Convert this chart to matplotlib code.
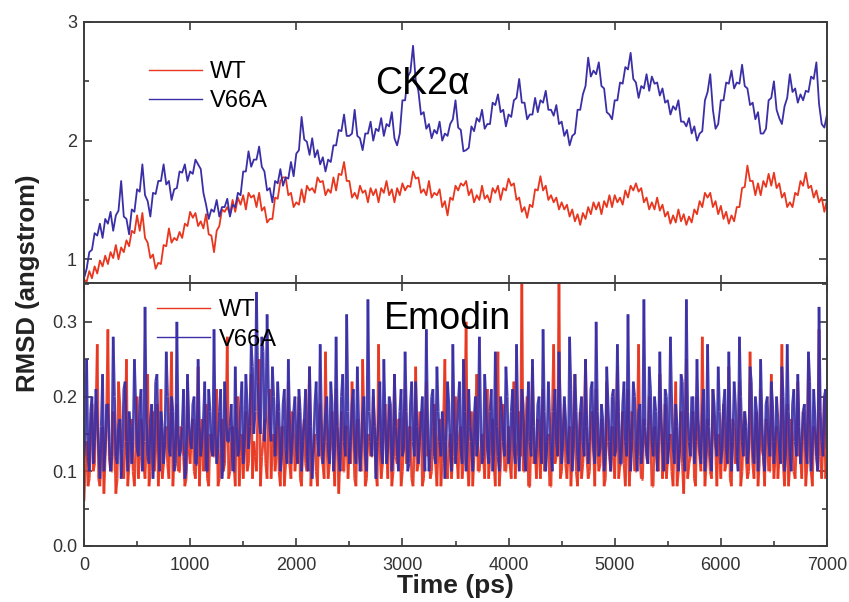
import numpy as np
import matplotlib
matplotlib.use("Agg")
import matplotlib.pyplot as plt
from matplotlib.ticker import MultipleLocator
from matplotlib.collections import LineCollection

plt.rcParams['font.family'] = ['Liberation Sans', 'DejaVu Sans']

# ---------------- data (RMSD, angstrom), sampled every 25 ps from 0 to 7000 ps ----------------
ck2_wt = [
    0.83, 0.81, 0.90, 0.84, 0.94, 0.88, 0.99, 0.94, 1.03, 0.96, 1.06, 1.01, 1.12, 1.00, 1.10, 1.06, 1.16, 1.11, 1.24, 1.22,
    1.37, 1.24, 1.39, 1.18, 1.14, 1.01, 1.04, 0.92, 0.97, 0.96, 1.12, 1.11, 1.26, 1.14, 1.18, 1.16, 1.23, 1.18, 1.30, 1.28,
    1.40, 1.35, 1.39, 1.28, 1.32, 1.26, 1.38, 1.21, 1.20, 1.06, 1.24, 1.28, 1.42, 1.40, 1.44, 1.38, 1.50, 1.40, 1.52, 1.46,
    1.54, 1.42, 1.56, 1.52, 1.54, 1.44, 1.56, 1.41, 1.44, 1.31, 1.34, 1.34, 1.52, 1.51, 1.66, 1.69, 1.69, 1.54, 1.56, 1.44,
    1.48, 1.46, 1.59, 1.48, 1.62, 1.58, 1.60, 1.56, 1.69, 1.65, 1.66, 1.54, 1.59, 1.56, 1.69, 1.58, 1.72, 1.71, 1.82, 1.66,
    1.66, 1.52, 1.56, 1.51, 1.62, 1.56, 1.58, 1.48, 1.60, 1.54, 1.59, 1.48, 1.60, 1.56, 1.66, 1.54, 1.59, 1.48, 1.60, 1.54,
    1.64, 1.58, 1.62, 1.61, 1.74, 1.68, 1.69, 1.56, 1.59, 1.54, 1.66, 1.52, 1.56, 1.54, 1.59, 1.44, 1.49, 1.37, 1.52, 1.50,
    1.62, 1.58, 1.64, 1.62, 1.66, 1.54, 1.59, 1.48, 1.54, 1.50, 1.62, 1.51, 1.54, 1.48, 1.60, 1.56, 1.62, 1.50, 1.60, 1.58,
    1.68, 1.62, 1.64, 1.50, 1.52, 1.40, 1.44, 1.35, 1.46, 1.44, 1.59, 1.58, 1.70, 1.58, 1.62, 1.50, 1.54, 1.48, 1.52, 1.42,
    1.48, 1.42, 1.46, 1.36, 1.42, 1.32, 1.38, 1.29, 1.39, 1.34, 1.44, 1.38, 1.48, 1.42, 1.48, 1.38, 1.49, 1.44, 1.54, 1.44,
    1.54, 1.48, 1.52, 1.46, 1.58, 1.52, 1.62, 1.58, 1.64, 1.57, 1.60, 1.48, 1.52, 1.42, 1.48, 1.42, 1.52, 1.41, 1.46, 1.36,
    1.40, 1.30, 1.37, 1.31, 1.42, 1.32, 1.38, 1.29, 1.36, 1.31, 1.42, 1.38, 1.49, 1.44, 1.56, 1.52, 1.56, 1.44, 1.49, 1.38,
    1.45, 1.34, 1.40, 1.30, 1.37, 1.32, 1.44, 1.44, 1.60, 1.61, 1.79, 1.66, 1.66, 1.54, 1.64, 1.54, 1.66, 1.61, 1.72, 1.62,
    1.73, 1.60, 1.64, 1.52, 1.56, 1.44, 1.48, 1.44, 1.56, 1.54, 1.66, 1.62, 1.73, 1.60, 1.62, 1.52, 1.58, 1.48, 1.52, 1.40,
    1.50,
]

ck2_v66a = [
    0.84, 0.92, 1.06, 1.08, 1.22, 1.20, 1.30, 1.18, 1.34, 1.30, 1.40, 1.24, 1.37, 1.41, 1.66, 1.36, 1.34, 1.21, 1.42, 1.40,
    1.59, 1.57, 1.80, 1.54, 1.49, 1.36, 1.56, 1.55, 1.66, 1.66, 1.80, 1.63, 1.66, 1.50, 1.59, 1.60, 1.74, 1.73, 1.80, 1.66,
    1.74, 1.72, 1.84, 1.80, 1.76, 1.56, 1.46, 1.34, 1.42, 1.40, 1.50, 1.36, 1.44, 1.44, 1.51, 1.36, 1.46, 1.44, 1.56, 1.54,
    1.74, 1.74, 1.91, 1.78, 1.84, 1.84, 1.95, 1.78, 1.74, 1.58, 1.60, 1.48, 1.66, 1.64, 1.76, 1.62, 1.69, 1.68, 1.82, 1.70,
    1.89, 1.92, 2.20, 2.01, 1.99, 1.88, 2.02, 1.86, 1.92, 1.80, 1.86, 1.74, 1.84, 1.82, 1.96, 1.96, 2.09, 2.08, 2.22, 2.04,
    2.04, 2.06, 2.26, 2.04, 2.02, 1.92, 2.06, 2.06, 2.16, 2.00, 2.10, 2.08, 2.19, 2.04, 2.14, 2.12, 2.24, 2.02, 1.96, 2.06,
    2.34, 2.34, 2.54, 2.58, 2.80, 2.51, 2.42, 2.22, 2.24, 2.10, 2.14, 2.02, 2.09, 2.06, 2.16, 2.00, 2.06, 2.04, 2.14, 2.18,
    2.34, 2.11, 2.09, 1.91, 1.92, 1.94, 2.12, 2.08, 2.19, 2.16, 2.26, 2.10, 2.14, 2.14, 2.32, 2.30, 2.39, 2.24, 2.26, 2.12,
    2.22, 2.20, 2.34, 2.36, 2.52, 2.32, 2.32, 2.18, 2.22, 2.22, 2.36, 2.24, 2.34, 2.32, 2.42, 2.26, 2.26, 2.21, 2.30, 2.14,
    2.16, 2.04, 2.09, 1.96, 2.04, 2.06, 2.26, 2.26, 2.39, 2.46, 2.70, 2.54, 2.59, 2.56, 2.66, 2.46, 2.44, 2.24, 2.22, 2.18,
    2.34, 2.34, 2.49, 2.48, 2.62, 2.60, 2.74, 2.52, 2.49, 2.36, 2.46, 2.44, 2.56, 2.42, 2.54, 2.48, 2.49, 2.38, 2.44, 2.32,
    2.34, 2.22, 2.29, 2.26, 2.34, 2.16, 2.16, 2.12, 2.19, 2.06, 2.12, 2.00, 2.06, 2.08, 2.34, 2.41, 2.56, 2.26, 2.10, 2.14,
    2.34, 2.34, 2.49, 2.48, 2.59, 2.44, 2.49, 2.48, 2.64, 2.46, 2.44, 2.30, 2.32, 2.18, 2.24, 2.06, 2.06, 2.10, 2.34, 2.36,
    2.50, 2.26, 2.19, 2.14, 2.29, 2.36, 2.56, 2.41, 2.44, 2.32, 2.39, 2.34, 2.42, 2.41, 2.54, 2.52, 2.66, 2.31, 2.14, 2.11,
    2.22,
]

# Emodin: samples at 0, 25, ..., 7000 ps
emodin_wt = [
    0.06, 0.14, 0.09, 0.19, 0.11, 0.27, 0.08, 0.16, 0.12, 0.29, 0.10, 0.18, 0.07, 0.22, 0.13, 0.09, 0.25, 0.11, 0.17, 0.08,
    0.20, 0.12, 0.15, 0.09, 0.23, 0.10, 0.18, 0.13, 0.08, 0.21, 0.11, 0.16, 0.09, 0.26, 0.12, 0.19, 0.10, 0.14, 0.08, 0.22,
    0.11, 0.17, 0.09, 0.24, 0.13, 0.10, 0.19, 0.08, 0.15, 0.12, 0.21, 0.09, 0.17, 0.11, 0.28, 0.10, 0.16, 0.08, 0.20, 0.12,
    0.09, 0.18, 0.11, 0.23, 0.14, 0.10, 0.25, 0.12, 0.17, 0.09, 0.21, 0.13, 0.10, 0.19, 0.08, 0.16, 0.11, 0.22, 0.09, 0.15,
    0.12, 0.20, 0.08, 0.17, 0.10, 0.24, 0.12, 0.15, 0.08, 0.19, 0.11, 0.26, 0.09, 0.14, 0.12, 0.21, 0.07, 0.18, 0.10, 0.16,
    0.13, 0.22, 0.09, 0.17, 0.11, 0.25, 0.08, 0.15, 0.12, 0.20, 0.10, 0.27, 0.09, 0.16, 0.13, 0.19, 0.08, 0.23, 0.11, 0.17,
    0.10, 0.21, 0.12, 0.16, 0.08, 0.24, 0.11, 0.18, 0.09, 0.22, 0.13, 0.10, 0.19, 0.08, 0.17, 0.11, 0.25, 0.09, 0.15, 0.12,
    0.20, 0.09, 0.16, 0.11, 0.30, 0.08, 0.18, 0.12, 0.23, 0.10, 0.15, 0.09, 0.21, 0.12, 0.17, 0.08, 0.26, 0.11, 0.19, 0.10,
    0.16, 0.09, 0.22, 0.12, 0.18, 0.36, 0.10, 0.20, 0.08, 0.24, 0.13, 0.17, 0.09, 0.21, 0.11, 0.15, 0.08, 0.27, 0.12, 0.37,
    0.10, 0.19, 0.09, 0.16, 0.12, 0.23, 0.08, 0.18, 0.11, 0.25, 0.09, 0.15, 0.13, 0.21, 0.10, 0.17, 0.08, 0.22, 0.12, 0.16,
    0.09, 0.24, 0.11, 0.18, 0.08, 0.21, 0.12, 0.15, 0.10, 0.27, 0.09, 0.17, 0.13, 0.20, 0.08, 0.16, 0.11, 0.23, 0.09, 0.19,
    0.12, 0.15, 0.08, 0.22, 0.10, 0.18, 0.07, 0.25, 0.11, 0.16, 0.09, 0.20, 0.12, 0.28, 0.08, 0.17, 0.10, 0.21, 0.13, 0.15,
    0.09, 0.19, 0.11, 0.24, 0.08, 0.16, 0.12, 0.22, 0.10, 0.18, 0.09, 0.26, 0.11, 0.15, 0.08, 0.21, 0.12, 0.17, 0.10, 0.23,
    0.09, 0.16, 0.12, 0.27, 0.08, 0.19, 0.11, 0.15, 0.09, 0.22, 0.12, 0.18, 0.08, 0.25, 0.10, 0.16, 0.13, 0.29, 0.09, 0.20,
    0.12,
]
# Emodin WT: samples at 12.5, 37.5, ..., 6987.5 ps
emodin_wt_mid = [
    0.11, 0.08, 0.15, 0.10, 0.18, 0.09, 0.13, 0.07, 0.17, 0.12, 0.10, 0.15, 0.09, 0.19, 0.11, 0.14, 0.08, 0.16, 0.10, 0.13,
    0.09, 0.17, 0.11, 0.14, 0.08, 0.16, 0.10, 0.19, 0.12, 0.09, 0.15, 0.11, 0.18, 0.08, 0.14, 0.10, 0.16, 0.12, 0.09, 0.13,
    0.15, 0.10, 0.14, 0.08, 0.17, 0.11, 0.09, 0.15, 0.12, 0.18, 0.08, 0.13, 0.10, 0.16, 0.09, 0.14, 0.11, 0.19, 0.08, 0.15,
    0.13, 0.10, 0.16, 0.09, 0.12, 0.18, 0.08, 0.14, 0.11, 0.17, 0.09, 0.15, 0.12, 0.10, 0.16, 0.08, 0.13, 0.11, 0.18, 0.10,
    0.14, 0.09, 0.15, 0.11, 0.17, 0.08, 0.13, 0.10, 0.16, 0.12, 0.09, 0.14, 0.11, 0.18, 0.08, 0.15, 0.12, 0.10, 0.16, 0.09,
    0.11, 0.15, 0.08, 0.13, 0.10, 0.17, 0.09, 0.14, 0.12, 0.16, 0.08, 0.13, 0.11, 0.19, 0.09, 0.15, 0.10, 0.12, 0.17, 0.08,
    0.14, 0.11, 0.16, 0.09, 0.13, 0.10, 0.18, 0.08, 0.15, 0.12, 0.09, 0.16, 0.11, 0.14, 0.08, 0.17, 0.10, 0.13, 0.09, 0.16,
    0.12, 0.15, 0.09, 0.18, 0.11, 0.14, 0.08, 0.16, 0.10, 0.13, 0.12, 0.17, 0.09, 0.15, 0.11, 0.19, 0.08, 0.14, 0.10, 0.13,
    0.11, 0.16, 0.09, 0.14, 0.12, 0.10, 0.17, 0.08, 0.15, 0.11, 0.09, 0.13, 0.16, 0.10, 0.14, 0.08, 0.18, 0.11, 0.13, 0.09,
    0.15, 0.11, 0.13, 0.08, 0.17, 0.10, 0.14, 0.09, 0.16, 0.12, 0.10, 0.18, 0.08, 0.13, 0.11, 0.15, 0.09, 0.14, 0.10, 0.12,
    0.16, 0.09, 0.14, 0.11, 0.13, 0.08, 0.18, 0.10, 0.15, 0.12, 0.09, 0.14, 0.11, 0.16, 0.08, 0.13, 0.10, 0.17, 0.12, 0.09,
    0.14, 0.10, 0.16, 0.08, 0.13, 0.11, 0.15, 0.09, 0.12, 0.18, 0.08, 0.14, 0.10, 0.16, 0.11, 0.13, 0.09, 0.15, 0.08, 0.12,
    0.15, 0.10, 0.13, 0.09, 0.17, 0.11, 0.14, 0.08, 0.16, 0.12, 0.10, 0.15, 0.09, 0.18, 0.11, 0.13, 0.08, 0.16, 0.10, 0.14,
    0.12, 0.09, 0.15, 0.11, 0.13, 0.08, 0.17, 0.10, 0.14, 0.12, 0.09, 0.16, 0.11, 0.13, 0.08, 0.15, 0.10, 0.12, 0.14, 0.09,
]

emodin_v66a = [
    0.12, 0.25, 0.10, 0.20, 0.14, 0.17, 0.09, 0.23, 0.13, 0.19, 0.10, 0.28, 0.12, 0.16, 0.09, 0.21, 0.14, 0.18, 0.11, 0.25,
    0.13, 0.19, 0.10, 0.32, 0.12, 0.17, 0.09, 0.22, 0.14, 0.18, 0.11, 0.26, 0.13, 0.20, 0.10, 0.30, 0.12, 0.16, 0.09, 0.23,
    0.14, 0.19, 0.11, 0.25, 0.12, 0.17, 0.10, 0.21, 0.13, 0.29, 0.11, 0.18, 0.09, 0.22, 0.14, 0.16, 0.10, 0.24, 0.12, 0.19,
    0.11, 0.23, 0.13, 0.27, 0.15, 0.34, 0.17, 0.28, 0.14, 0.31, 0.16, 0.24, 0.12, 0.22, 0.10, 0.19, 0.13, 0.25, 0.11, 0.18,
    0.13, 0.21, 0.10, 0.17, 0.12, 0.24, 0.09, 0.19, 0.14, 0.27, 0.11, 0.18, 0.13, 0.22, 0.10, 0.28, 0.12, 0.20, 0.14, 0.31,
    0.11, 0.19, 0.13, 0.24, 0.10, 0.18, 0.12, 0.33, 0.14, 0.21, 0.09, 0.17, 0.13, 0.25, 0.11, 0.20, 0.10, 0.23, 0.13, 0.18,
    0.12, 0.26, 0.10, 0.19, 0.14, 0.22, 0.11, 0.17, 0.13, 0.29, 0.10, 0.20, 0.12, 0.24, 0.14, 0.18, 0.09, 0.22, 0.13, 0.27,
    0.11, 0.19, 0.13, 0.25, 0.10, 0.21, 0.14, 0.17, 0.12, 0.28, 0.11, 0.23, 0.13, 0.18, 0.10, 0.26, 0.12, 0.20, 0.14, 0.24,
    0.11, 0.18, 0.13, 0.27, 0.10, 0.21, 0.12, 0.17, 0.14, 0.25, 0.11, 0.19, 0.13, 0.29, 0.10, 0.22, 0.12, 0.18, 0.14, 0.26,
    0.11, 0.20, 0.13, 0.28, 0.10, 0.23, 0.12, 0.18, 0.14, 0.25, 0.11, 0.21, 0.13, 0.30, 0.12, 0.19, 0.10, 0.24, 0.14, 0.20,
    0.12, 0.27, 0.11, 0.19, 0.14, 0.31, 0.10, 0.22, 0.13, 0.18, 0.11, 0.33, 0.12, 0.24, 0.14, 0.20, 0.10, 0.26, 0.13, 0.21,
    0.11, 0.28, 0.13, 0.19, 0.10, 0.23, 0.12, 0.33, 0.14, 0.20, 0.11, 0.25, 0.13, 0.18, 0.10, 0.27, 0.12, 0.21, 0.14, 0.24,
    0.11, 0.19, 0.13, 0.26, 0.10, 0.22, 0.12, 0.28, 0.14, 0.18, 0.11, 0.24, 0.13, 0.20, 0.10, 0.25, 0.12, 0.19, 0.14, 0.22,
    0.11, 0.20, 0.13, 0.24, 0.10, 0.27, 0.12, 0.19, 0.14, 0.23, 0.11, 0.18, 0.13, 0.26, 0.10, 0.21, 0.12, 0.32, 0.14, 0.20,
    0.13,
]
emodin_v66a_mid = [
    0.15, 0.12, 0.18, 0.11, 0.21, 0.13, 0.16, 0.10, 0.19, 0.14, 0.12, 0.20, 0.11, 0.17, 0.13, 0.22, 0.10, 0.16, 0.14, 0.19,
    0.12, 0.21, 0.14, 0.17, 0.11, 0.19, 0.13, 0.23, 0.10, 0.16, 0.14, 0.20, 0.12, 0.18, 0.11, 0.15, 0.13, 0.21, 0.10, 0.17,
    0.13, 0.20, 0.11, 0.16, 0.14, 0.22, 0.10, 0.18, 0.12, 0.15, 0.13, 0.21, 0.11, 0.17, 0.14, 0.19, 0.10, 0.16, 0.13, 0.22,
    0.14, 0.19, 0.16, 0.24, 0.18, 0.22, 0.15, 0.26, 0.17, 0.21, 0.14, 0.20, 0.16, 0.18, 0.12, 0.21, 0.11, 0.17, 0.14, 0.20,
    0.11, 0.18, 0.14, 0.21, 0.10, 0.16, 0.13, 0.22, 0.12, 0.17, 0.14, 0.20, 0.11, 0.19, 0.13, 0.16, 0.10, 0.23, 0.12, 0.18,
    0.14, 0.21, 0.11, 0.17, 0.13, 0.20, 0.10, 0.18, 0.12, 0.16, 0.14, 0.22, 0.11, 0.17, 0.13, 0.19, 0.12, 0.16, 0.10, 0.21,
    0.13, 0.18, 0.11, 0.22, 0.12, 0.16, 0.14, 0.20, 0.10, 0.17, 0.13, 0.21, 0.11, 0.18, 0.12, 0.15, 0.14, 0.19, 0.10, 0.17,
    0.14, 0.22, 0.11, 0.18, 0.13, 0.16, 0.10, 0.20, 0.14, 0.17, 0.12, 0.19, 0.11, 0.21, 0.13, 0.16, 0.10, 0.18, 0.12, 0.20,
    0.13, 0.21, 0.11, 0.17, 0.14, 0.19, 0.10, 0.22, 0.12, 0.16, 0.13, 0.20, 0.11, 0.18, 0.14, 0.17, 0.10, 0.21, 0.12, 0.19,
    0.14, 0.17, 0.11, 0.21, 0.13, 0.18, 0.10, 0.20, 0.12, 0.16, 0.14, 0.22, 0.11, 0.18, 0.13, 0.17, 0.12, 0.19, 0.10, 0.21,
    0.13, 0.18, 0.11, 0.22, 0.12, 0.17, 0.14, 0.20, 0.10, 0.19, 0.13, 0.16, 0.11, 0.21, 0.12, 0.18, 0.14, 0.17, 0.10, 0.20,
    0.14, 0.19, 0.11, 0.16, 0.13, 0.22, 0.10, 0.18, 0.12, 0.20, 0.14, 0.17, 0.11, 0.21, 0.13, 0.16, 0.10, 0.19, 0.12, 0.18,
    0.13, 0.21, 0.11, 0.17, 0.14, 0.19, 0.10, 0.20, 0.12, 0.16, 0.13, 0.22, 0.11, 0.18, 0.14, 0.17, 0.10, 0.20, 0.12, 0.19,
    0.14, 0.17, 0.11, 0.20, 0.13, 0.18, 0.10, 0.21, 0.12, 0.16, 0.14, 0.19, 0.11, 0.22, 0.13, 0.17, 0.10, 0.18, 0.12, 0.21,
]

series_labels = ["WT", "V66A"]
panel_titles = ["CK2\u03b1", "Emodin"]
x_ticks = [0, 1000, 2000, 3000, 4000, 5000, 6000, 7000]

RED = "#e8361f"
BLUE = "#3a2fa6"
SPINE = "#3c3c3c"
TXT = "#333333"


def merge(main, mid):
    main = np.asarray(main, float)
    mid = np.asarray(mid, float)
    n = min(len(main), len(mid) + 1)
    out = np.empty(2 * n - 1)
    out[0::2] = main[:n]
    out[1::2] = mid[:n - 1]
    return out


def segments(x, y):
    pts = np.column_stack([x, y])
    return np.stack([pts[:-1], pts[1:]], axis=1)


fig = plt.figure(figsize=(8.49, 6.02), dpi=100)
L, R = 84 / 849, 827 / 849
ax1 = fig.add_axes([L, 1 - 283 / 602, R - L, (283 - 22) / 602])
ax2 = fig.add_axes([L, 1 - 546 / 602, R - L, (546 - 283) / 602])


def style(ax):
    for s in ax.spines.values():
        s.set_color(SPINE)
        s.set_linewidth(1.4)
    ax.tick_params(which='both', direction='in', top=True, right=True, colors=SPINE,
                   labelcolor=TXT, labelsize=13, width=1.2)
    ax.tick_params(which='major', length=6)
    ax.tick_params(which='minor', length=3.5)


# top panel
t1 = np.linspace(0, 7000, len(ck2_wt))
t1b = np.linspace(0, 7000, len(ck2_v66a))
ax1.plot(t1, ck2_wt, color=RED, lw=1.3, label=series_labels[0])
ax1.plot(t1b, ck2_v66a, color=BLUE, lw=1.3, label=series_labels[1])
ax1.set_xlim(0, 7000)
ax1.set_ylim(0.8, 3.0)
ax1.set_xticks(x_ticks)
ax1.set_yticks([1, 2, 3])
ax1.yaxis.set_minor_locator(MultipleLocator(0.5))
style(ax1)
ax1.tick_params(axis='x', labelbottom=False)
ax1.tick_params(axis='y', pad=5)
leg1 = ax1.legend(loc='upper left', bbox_to_anchor=(0.075, 0.885), frameon=False, fontsize=17,
                  handlelength=2.25, handletextpad=0.34, labelspacing=0.28, borderaxespad=0)
for ln in leg1.get_lines():
    ln.set_linewidth(1.0)
ax1.text(0.456, 0.762, panel_titles[0], transform=ax1.transAxes, fontsize=27, ha='center', va='center',
         color='black')

# bottom panel: segments drawn individually so dense overlaps build up like the original trace
y_wt = merge(emodin_wt, emodin_wt_mid)
y_mu = merge(emodin_v66a, emodin_v66a_mid)
t2 = np.linspace(0, 7000, len(y_wt))
t2b = np.linspace(0, 7000, len(y_mu))
ax2.add_collection(LineCollection(segments(t2, y_wt), colors=RED, linewidths=1.9, alpha=0.9))
ax2.add_collection(LineCollection(segments(t2b, y_mu), colors=BLUE, linewidths=1.9, alpha=0.9))
ax2.plot([], [], color=RED, lw=1.0, label=series_labels[0])
ax2.plot([], [], color=BLUE, lw=1.0, label=series_labels[1])
ax2.set_xlim(0, 7000)
ax2.set_ylim(0.0, 0.352)
ax2.set_xticks(x_ticks)
ax2.xaxis.set_minor_locator(MultipleLocator(500))
ax2.set_yticks([0.0, 0.1, 0.2, 0.3])
ax2.set_yticklabels(["0.0", "0.1", "0.2", "0.3"])
ax2.yaxis.set_minor_locator(MultipleLocator(0.05))
style(ax2)
ax2.tick_params(axis='x', which='minor', top=False)
ax2.tick_params(axis='x', pad=8)
ax2.tick_params(axis='y', pad=5)
leg2 = ax2.legend(loc='upper left', bbox_to_anchor=(0.086, 0.975), frameon=False, fontsize=17,
                  handlelength=2.25, handletextpad=0.34, labelspacing=0.32, borderaxespad=0)
ax2.text(0.489, 0.865, panel_titles[1], transform=ax2.transAxes, fontsize=27, ha='center', va='center',
         color='black')

fig.text(0.033, 1 - 283 / 602, "RMSD (angstrom)", rotation=90, fontsize=18.5, fontweight='bold',
         ha='center', va='center', color='#222222')
fig.text((L + R) / 2, 0.027, "Time (ps)", fontsize=19, fontweight='bold', ha='center', va='center',
         color='#222222')

fig.savefig("out.png", dpi=100)
